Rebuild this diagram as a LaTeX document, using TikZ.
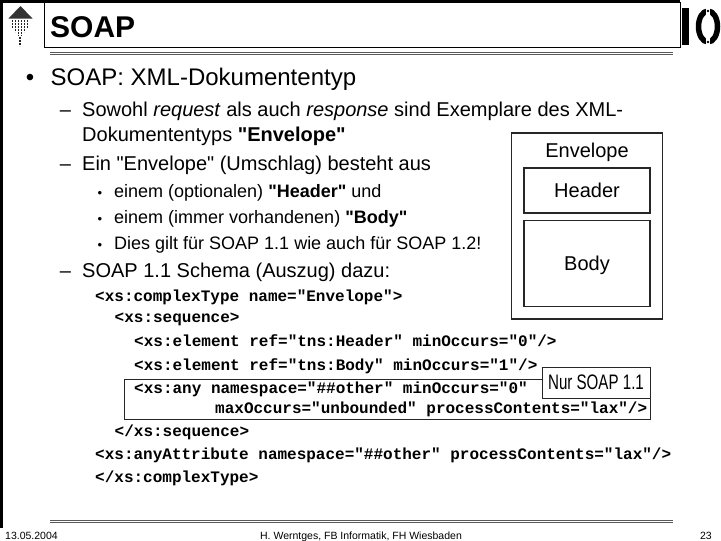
\documentclass[tikz,border=0pt]{standalone}
\usepackage{fontspec}
\setmainfont{Liberation Sans}[Ligatures=TeXOff]
\setmonofont{Liberation Mono}
\newfontfamily\narrowsans[FakeStretch=0.72]{Liberation Sans}
\usetikzlibrary{fit,positioning}

\begin{document}
\begin{tikzpicture}[
        x=1pt, y=-1pt,
        lvlone/.style={anchor=base west, inner sep=0pt, font=\fontsize{24}{28}\selectfont},
        lvltwo/.style={anchor=base west, inner sep=0pt, font=\fontsize{20}{24}\selectfont},
        lvlthree/.style={anchor=base west, inner sep=0pt, font=\fontsize{18}{22}\selectfont},
        codeline/.style={anchor=base west, inner sep=0pt, font=\fontsize{16}{18}\selectfont\ttfamily\bfseries},
        bulletone/.style={anchor=base, inner sep=0pt, font=\fontsize{24}{28}\selectfont},
        dashtwo/.style={anchor=base, inner sep=0pt, font=\fontsize{20}{24}\selectfont},
        bulletthree/.style={anchor=base, inner sep=0pt, font=\fontsize{13}{16}\selectfont},
        partbox/.style={rectangle, draw=black!85, line width=1.2pt, minimum width=126pt,
          font=\fontsize{20}{24}\selectfont, text height=14.3pt, text depth=0pt},
        envbox/.style={rectangle, draw=black!85, line width=1.4pt, inner sep=12pt},
        notebox/.style={rectangle, draw=black!85, fill=white, line width=1pt, inner sep=0pt,
          minimum width=108pt, minimum height=31pt, font=\narrowsans\fontsize{21}{24}\selectfont},
        footer/.style={anchor=base, inner sep=0pt, font=\fontsize{10.5}{12}\selectfont},
        rule/.style={draw=black!65, double=white, double distance=1.2pt, line width=0.9pt},
        homedots/.style={draw=black!85, line width=1.6pt, dash pattern=on 1.6pt off 1.4pt}
      ]
        \useasboundingbox (0,0) rectangle (721,541);

        % frame and title bar
        \draw[line width=3pt] (1.5,0) -- (1.5,528);
        \draw[line width=3pt] (0,1.5) -- (680,1.5);
        \draw[line width=1pt] (44,2) rectangle (680,47.7);
        \draw[rule] (50,53.5) -- (673,53.5);
        \draw[rule] (50,521.8) -- (673,521.8);

        % home icon
        \fill[black!80] (8.5,18.5) -- (20.5,6) -- (32.5,18.5) -- cycle;
        \draw[homedots] (12.5,20) -- (12.5,28);
        \draw[homedots] (15.5,20) -- (15.5,32);
        \draw[homedots] (18.5,20) -- (18.5,36);
        \draw[homedots] (21.5,20) -- (21.5,36);
        \draw[homedots] (24.5,20) -- (24.5,32);
        \draw[homedots] (27.5,20) -- (27.5,28);
        \draw[homedots] (20,37) -- (20,46);

        % IO logo
        \fill (682,8) rectangle (688.5,45);
        \draw[line width=5.5pt] (708,26.5) ellipse [x radius=9.5pt, y radius=15.5pt];
        \fill[white] (706.4,5) rectangle (709.6,48);
        \fill (708,11) circle (1.3pt);
        \fill (708,42) circle (1.3pt);

        \node (title) [anchor=base west, inner sep=0pt, font=\fontsize{30}{32}\selectfont\bfseries] at (50,37.5) {SOAP};

        \node (b1) [bulletone] at (30,85.7) {•};
        \node (t1) [lvlone] at (50.5,85.7) {SOAP: XML-Dokumententyp};

        \node (d1) [dashtwo] at (65.5,116.7) {–};
        \node (t2) [lvltwo] at (82,116.7) {Sowohl \textit{request} als auch \textit{response} sind Exemplare des XML-};
        \node (t3) [lvltwo] at (82,141) {Dokumententyps \textbf{"Envelope"}};
        \node (d2) [dashtwo] at (65.5,170) {–};
        \node (t4) [lvltwo] at (82,170) {Ein "Envelope" (Umschlag) besteht aus};

        \node (b2) [bulletthree] at (100,197.3) {•};
        \node (t5) [lvlthree] at (114,197.3) {einem (optionalen) \textbf{"Header"} und};
        \node (b3) [bulletthree] at (100,223.3) {•};
        \node (t6) [lvlthree] at (114,223.3) {einem (immer vorhandenen) \textbf{"Body"}};
        \node (b4) [bulletthree] at (100,249.3) {•};
        \node (t7) [lvlthree] at (114,249.3) {Dies gilt für SOAP 1.1 wie auch für SOAP 1.2!};

        \node (d3) [dashtwo] at (65.5,277.3) {–};
        \node (t8) [lvltwo] at (82,277.3) {SOAP 1.1 Schema (Auszug) dazu:};

        \node (c1) [codeline] at (95,301.5) {<xs:complexType name="Envelope">};
        \node (c2) [codeline] at (114.5,322.5) {<xs:sequence>};
        \node (c3) [codeline] at (134,346.5) {<xs:element ref="tns:Header" minOccurs="0"/>};
        \node (c4) [codeline] at (134,370.5) {<xs:element ref="tns:Body" minOccurs="1"/>};
        \node (c5) [codeline] at (134,393.5) {<xs:any namespace="\#\#other" minOccurs="0"};
        \node (c6) [codeline] at (215,413.5) {maxOccurs="unbounded" processContents="lax"/>};
        \node (c7) [codeline] at (114.5,436.5) {</xs:sequence>};
        \node (c8) [codeline] at (95,459.5) {<xs:anyAttribute namespace="\#\#other" processContents="lax"/>};
        \node (c9) [codeline] at (95,482.5) {</xs:complexType>};

        \draw[draw=black!85, line width=1pt] (124,379) rectangle (650,419);
        \node (only11) [notebox] at (596,382.5) {Nur SOAP 1.1};

        % envelope sketch
        \node (header) [partbox, minimum height=45pt] at (587,190.5) {Header};
        \node (body) [partbox, minimum height=86pt, below=6pt of header] {Body};
        \node (envlabel) [anchor=base, inner sep=0pt, text height=12pt, font=\fontsize{20}{24}\selectfont] at (587,157.3) {Envelope};
        \node [envbox, fit={(envlabel) (header) (body)}] (envelope) {};

        \node (date) [footer, anchor=base west] at (5,539) {13.05.2004};
        \node (author) [footer] at (361,539) {H. Werntges, FB Informatik, FH Wiesbaden};
        \node (page) [footer, anchor=base east] at (712,539) {23};
      \end{tikzpicture}
\end{document}
